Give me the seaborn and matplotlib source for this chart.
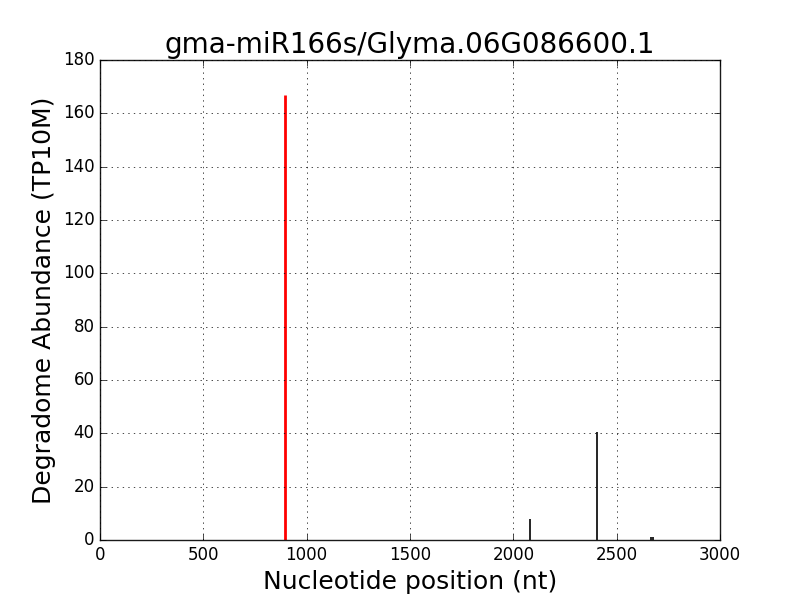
import matplotlib
matplotlib.use("Agg")
import matplotlib.pyplot as plt
import seaborn as sns

# degradome reads along the transcript
positions = [2082, 2406, 2668, 2678]
abundance = [8, 40.6, 1, 1]

# miRNA cleavage site
site_pos = [897]
site_abund = [167]

sns.set_theme()
plt.style.use("classic")
plt.rcParams["font.family"] = ["DejaVu Sans"]
plt.rcParams.update({"text.color": "black", "axes.labelcolor": "black",
                     "xtick.color": "black", "ytick.color": "black"})

fig, ax = plt.subplots(figsize=(8, 6), dpi=100, facecolor="white")
ax.vlines(positions, 0, abundance, colors="black", linewidth=1.2)
ax.vlines(site_pos, 0, site_abund, colors="red", linewidth=2)

ax.set_xlim(0, 3000)
ax.set_ylim(0, 180)
ax.grid(True, linestyle=":", color="black")
ax.set_title("gma-miR166s/Glyma.06G086600.1", fontsize=20, color="black")
ax.set_xlabel("Nucleotide position (nt)", fontsize=18)
ax.set_ylabel("Degradome Abundance (TP10M)", fontsize=18)

fig.savefig("out.png", facecolor="white")
